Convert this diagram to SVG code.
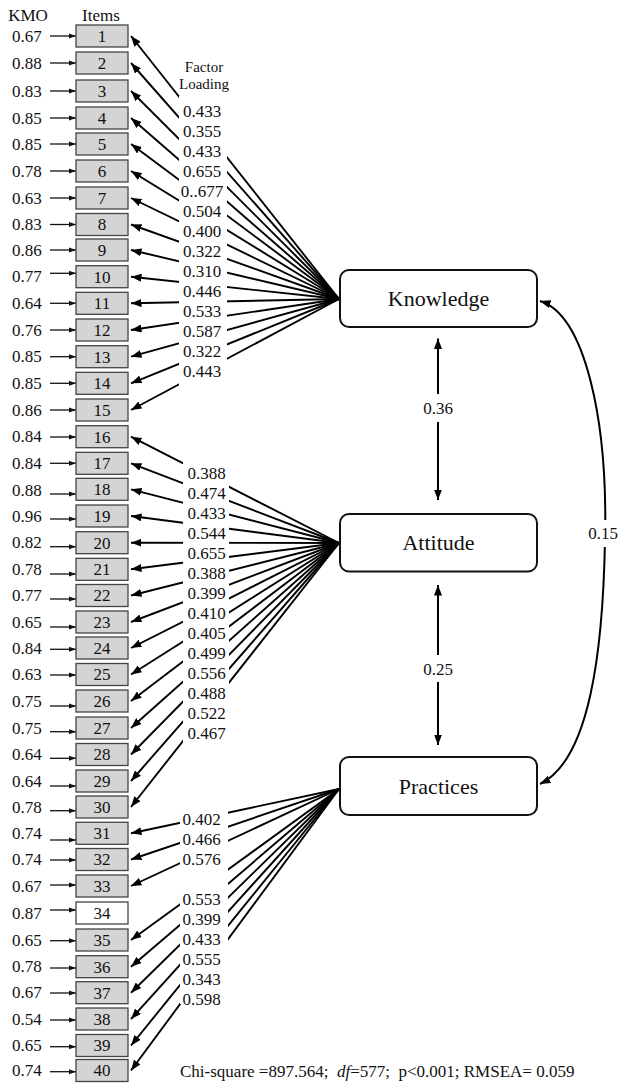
<svg xmlns="http://www.w3.org/2000/svg" width="620" height="1084" viewBox="0 0 620 1084">
<defs>
<style>
text{font-family:"Liberation Serif","Times New Roman",serif;fill:#111;}
.t17{font-size:17px;}
.mid{text-anchor:middle;}
.item rect{fill:#d4d4d4;stroke:#444;stroke-width:1.3;}
.item rect.white{fill:#fff;}
.item text{font-size:17px;text-anchor:middle;}
.kmo text{font-size:17px;}
.factor rect{fill:#fff;stroke:#111;stroke-width:2;}
.factor text{font-size:22px;text-anchor:middle;}
.load{stroke:#000;stroke-width:1.9;fill:none;marker-end:url(#ahL);}
.kmoa{stroke:#111;stroke-width:1.3;marker-end:url(#ahK);}
.corr{stroke:#000;stroke-width:2;fill:none;marker-start:url(#ahB);marker-end:url(#ahB);}
.mask{fill:#fff;}
.lab{font-size:17px;text-anchor:middle;}
</style>
<marker id="ahL" markerUnits="userSpaceOnUse" markerWidth="11" markerHeight="8" refX="10.5" refY="4" orient="auto"><path d="M0,0 L10.5,4 L0,8 z" fill="#000"/></marker>
<marker id="ahK" markerUnits="userSpaceOnUse" markerWidth="7" markerHeight="6" refX="7" refY="3" orient="auto"><path d="M0,0.5 L7,3 L0,5.5 z" fill="#111"/></marker>
<marker id="ahB" markerUnits="userSpaceOnUse" markerWidth="11" markerHeight="9" refX="10.5" refY="4.5" orient="auto-start-reverse"><path d="M0,0.5 L10.5,4.5 L0,8.5 z" fill="#000"/></marker>
</defs>
<rect width="620" height="1084" fill="#fff"/>

<g id="connectors">
<g id="knowledge-loadings">
<line class="load" x1="339" y1="299" x2="131" y2="36"/>
<line class="load" x1="339" y1="299" x2="131" y2="63"/>
<line class="load" x1="339" y1="299" x2="131" y2="91"/>
<line class="load" x1="339" y1="299" x2="131" y2="118"/>
<line class="load" x1="339" y1="299" x2="131" y2="144"/>
<line class="load" x1="339" y1="299" x2="131" y2="171"/>
<line class="load" x1="339" y1="299" x2="131" y2="198"/>
<line class="load" x1="339" y1="299" x2="131" y2="224.5"/>
<line class="load" x1="339" y1="299" x2="131" y2="250"/>
<line class="load" x1="339" y1="299" x2="131" y2="276.7"/>
<line class="load" x1="339" y1="299" x2="131" y2="303.3"/>
<line class="load" x1="339" y1="299" x2="131" y2="330"/>
<line class="load" x1="339" y1="299" x2="131" y2="356.7"/>
<line class="load" x1="339" y1="299" x2="131" y2="383.3"/>
<line class="load" x1="339" y1="299" x2="131" y2="410"/>
</g>
<g id="attitude-loadings">
<line class="load" x1="339" y1="543" x2="131" y2="436.7"/>
<line class="load" x1="339" y1="543" x2="131" y2="463.3"/>
<line class="load" x1="339" y1="543" x2="131" y2="489.3"/>
<line class="load" x1="339" y1="543" x2="131" y2="516"/>
<line class="load" x1="339" y1="543" x2="131" y2="542.7"/>
<line class="load" x1="339" y1="543" x2="131" y2="569.3"/>
<line class="load" x1="339" y1="543" x2="131" y2="595.5"/>
<line class="load" x1="339" y1="543" x2="131" y2="622"/>
<line class="load" x1="339" y1="543" x2="131" y2="648"/>
<line class="load" x1="339" y1="543" x2="131" y2="674.5"/>
<line class="load" x1="339" y1="543" x2="131" y2="701"/>
<line class="load" x1="339" y1="543" x2="131" y2="728"/>
<line class="load" x1="339" y1="543" x2="131" y2="754.5"/>
<line class="load" x1="339" y1="543" x2="131" y2="781"/>
<line class="load" x1="339" y1="543" x2="131" y2="807"/>
</g>
<g id="practices-loadings">
<line class="load" x1="339" y1="789" x2="131" y2="833.3"/>
<line class="load" x1="339" y1="789" x2="131" y2="859.5"/>
<line class="load" x1="339" y1="789" x2="131" y2="886"/>
<line class="load" x1="339" y1="789" x2="131" y2="940"/>
<line class="load" x1="339" y1="789" x2="131" y2="966.7"/>
<line class="load" x1="339" y1="789" x2="131" y2="992.7"/>
<line class="load" x1="339" y1="789" x2="131" y2="1019"/>
<line class="load" x1="339" y1="789" x2="131" y2="1045.5"/>
<line class="load" x1="339" y1="789" x2="131" y2="1070.5"/>
</g>
<g id="kmo-arrows">
<line class="kmoa" x1="50" y1="36" x2="76" y2="36"/>
<line class="kmoa" x1="50" y1="63" x2="76" y2="63"/>
<line class="kmoa" x1="50" y1="91" x2="76" y2="91"/>
<line class="kmoa" x1="50" y1="118" x2="76" y2="118"/>
<line class="kmoa" x1="50" y1="144" x2="76" y2="144"/>
<line class="kmoa" x1="50" y1="171" x2="76" y2="171"/>
<line class="kmoa" x1="50" y1="198" x2="76" y2="198"/>
<line class="kmoa" x1="50" y1="224.5" x2="76" y2="224.5"/>
<line class="kmoa" x1="50" y1="250" x2="76" y2="250"/>
<line class="kmoa" x1="50" y1="273.3" x2="76" y2="273.3"/>
<line class="kmoa" x1="50" y1="303.3" x2="76" y2="303.3"/>
<line class="kmoa" x1="50" y1="330" x2="76" y2="330"/>
<line class="kmoa" x1="50" y1="356.7" x2="76" y2="356.7"/>
<line class="kmoa" x1="50" y1="383.3" x2="76" y2="383.3"/>
<line class="kmoa" x1="50" y1="410" x2="76" y2="410"/>
<line class="kmoa" x1="50" y1="437" x2="76" y2="437"/>
<line class="kmoa" x1="50" y1="463.3" x2="76" y2="463.3"/>
<line class="kmoa" x1="50" y1="494" x2="76" y2="494"/>
<line class="kmoa" x1="50" y1="519" x2="76" y2="519"/>
<line class="kmoa" x1="50" y1="546.7" x2="76" y2="546.7"/>
<line class="kmoa" x1="50" y1="574" x2="76" y2="574"/>
<line class="kmoa" x1="50" y1="599" x2="76" y2="599"/>
<line class="kmoa" x1="50" y1="627" x2="76" y2="627"/>
<line class="kmoa" x1="50" y1="649.3" x2="76" y2="649.3"/>
<line class="kmoa" x1="50" y1="675" x2="76" y2="675"/>
<line class="kmoa" x1="50" y1="706" x2="76" y2="706"/>
<line class="kmoa" x1="50" y1="731.7" x2="76" y2="731.7"/>
<line class="kmoa" x1="50" y1="758.3" x2="76" y2="758.3"/>
<line class="kmoa" x1="50" y1="786" x2="76" y2="786"/>
<line class="kmoa" x1="50" y1="810.7" x2="76" y2="810.7"/>
<line class="kmoa" x1="50" y1="840" x2="76" y2="840"/>
<line class="kmoa" x1="50" y1="860" x2="76" y2="860"/>
<line class="kmoa" x1="50" y1="885" x2="76" y2="885"/>
<line class="kmoa" x1="50" y1="910" x2="76" y2="910"/>
<line class="kmoa" x1="50" y1="940.7" x2="76" y2="940.7"/>
<line class="kmoa" x1="50" y1="968" x2="76" y2="968"/>
<line class="kmoa" x1="50" y1="993" x2="76" y2="993"/>
<line class="kmoa" x1="50" y1="1020" x2="76" y2="1020"/>
<line class="kmoa" x1="50" y1="1046.7" x2="76" y2="1046.7"/>
<line class="kmoa" x1="50" y1="1071.7" x2="76" y2="1071.7"/>
</g>
<g id="correlations">
<line class="corr" x1="438" y1="338.5" x2="438" y2="500"/>
<line class="corr" x1="438" y1="585" x2="438" y2="745"/>
<path class="corr" d="M540,301 C585,315 608,420 605,540 C603,650 590,760 540,784"/>
</g>
</g>

<g id="loading-labels">
<rect class="mask" x="179" y="96" width="48" height="290"/>
<rect class="mask" x="183" y="460" width="46" height="283"/>
<rect class="mask" x="180" y="809" width="48" height="195"/>
<text x="204" y="71.5" class="mid" style="font-size:15px">Factor</text>
<text x="204" y="88.5" class="mid" style="font-size:15px">Loading</text>
<text class="lab" x="202" y="117.1">0.433</text>
<text class="lab" x="202" y="137.1">0.355</text>
<text class="lab" x="202" y="157.1">0.433</text>
<text class="lab" x="202" y="177.1">0.655</text>
<text class="lab" x="202" y="197.1">0..677</text>
<text class="lab" x="202" y="217.1">0.504</text>
<text class="lab" x="202" y="237.1">0.400</text>
<text class="lab" x="202" y="257.1">0.322</text>
<text class="lab" x="202" y="277.1">0.310</text>
<text class="lab" x="202" y="297.1">0.446</text>
<text class="lab" x="202" y="317.1">0.533</text>
<text class="lab" x="202" y="337.1">0.587</text>
<text class="lab" x="202" y="357.1">0.322</text>
<text class="lab" x="202" y="377.1">0.443</text>
<text class="lab" x="206.7" y="478.6">0.388</text>
<text class="lab" x="206.7" y="498.6">0.474</text>
<text class="lab" x="206.7" y="518.6">0.433</text>
<text class="lab" x="206.7" y="538.6">0.544</text>
<text class="lab" x="206.7" y="558.6">0.655</text>
<text class="lab" x="206.7" y="578.6">0.388</text>
<text class="lab" x="206.7" y="598.6">0.399</text>
<text class="lab" x="206.7" y="618.6">0.410</text>
<text class="lab" x="206.7" y="638.6">0.405</text>
<text class="lab" x="206.7" y="658.6">0.499</text>
<text class="lab" x="206.7" y="678.6">0.556</text>
<text class="lab" x="206.7" y="698.6">0.488</text>
<text class="lab" x="206.7" y="718.6">0.522</text>
<text class="lab" x="206.7" y="738.6">0.467</text>
<text class="lab" x="201.7" y="824.6">0.402</text>
<text class="lab" x="201.7" y="844.6">0.466</text>
<text class="lab" x="201.7" y="864.6">0.576</text>
<text class="lab" x="201.7" y="904.6">0.553</text>
<text class="lab" x="201.7" y="924.6">0.399</text>
<text class="lab" x="201.7" y="944.6">0.433</text>
<text class="lab" x="201.7" y="964.6">0.555</text>
<text class="lab" x="201.7" y="984.6">0.343</text>
<text class="lab" x="201.7" y="1004.6">0.598</text>
<rect class="mask" x="424" y="394" width="28" height="28"/>
<text class="lab" x="438" y="414">0.36</text>
<rect class="mask" x="424" y="655" width="28" height="27"/>
<text class="lab" x="438" y="675">0.25</text>
<rect class="mask" x="588" y="520" width="31" height="27"/>
<text class="lab" x="603" y="538.5">0.15</text>
</g>

<g id="headers">
<text class="t17 mid" x="28" y="20.5">KMO</text>
<text class="t17 mid" x="101" y="20.5">Items</text>
</g>

<g id="kmo" class="kmo">
<text x="12" y="41.6">0.67</text>
<text x="12" y="68.6">0.88</text>
<text x="12" y="96.6">0.83</text>
<text x="12" y="123.6">0.85</text>
<text x="12" y="149.6">0.85</text>
<text x="12" y="176.6">0.78</text>
<text x="12" y="203.6">0.63</text>
<text x="12" y="230.1">0.83</text>
<text x="12" y="255.6">0.86</text>
<text x="12" y="281.6">0.77</text>
<text x="12" y="308.9">0.64</text>
<text x="12" y="335.6">0.76</text>
<text x="12" y="362.3">0.85</text>
<text x="12" y="388.9">0.85</text>
<text x="12" y="415.6">0.86</text>
<text x="12" y="442.3">0.84</text>
<text x="12" y="468.9">0.84</text>
<text x="12" y="495.6">0.88</text>
<text x="12" y="521.6">0.96</text>
<text x="12" y="548.3">0.82</text>
<text x="12" y="574.9">0.78</text>
<text x="12" y="601.1">0.77</text>
<text x="12" y="627.6">0.65</text>
<text x="12" y="653.6">0.84</text>
<text x="12" y="680.1">0.63</text>
<text x="12" y="706.6">0.75</text>
<text x="12" y="733.6">0.75</text>
<text x="12" y="760.1">0.64</text>
<text x="12" y="786.6">0.64</text>
<text x="12" y="812.6">0.78</text>
<text x="12" y="838.9">0.74</text>
<text x="12" y="865.1">0.74</text>
<text x="12" y="891.6">0.67</text>
<text x="12" y="918.6">0.87</text>
<text x="12" y="945.6">0.65</text>
<text x="12" y="972.3">0.78</text>
<text x="12" y="998.3">0.67</text>
<text x="12" y="1024.6">0.54</text>
<text x="12" y="1051.1">0.65</text>
<text x="12" y="1076.1">0.74</text>
</g>

<g id="items">
<g id="item-1" class="item"><rect x="76" y="25" width="52" height="22"/><text x="102" y="41.8">1</text></g>
<g id="item-2" class="item"><rect x="76" y="52" width="52" height="22"/><text x="102" y="68.8">2</text></g>
<g id="item-3" class="item"><rect x="76" y="80" width="52" height="22"/><text x="102" y="96.8">3</text></g>
<g id="item-4" class="item"><rect x="76" y="107" width="52" height="22"/><text x="102" y="123.8">4</text></g>
<g id="item-5" class="item"><rect x="76" y="133" width="52" height="22"/><text x="102" y="149.8">5</text></g>
<g id="item-6" class="item"><rect x="76" y="160" width="52" height="22"/><text x="102" y="176.8">6</text></g>
<g id="item-7" class="item"><rect x="76" y="187" width="52" height="22"/><text x="102" y="203.8">7</text></g>
<g id="item-8" class="item"><rect x="76" y="213.5" width="52" height="22"/><text x="102" y="230.3">8</text></g>
<g id="item-9" class="item"><rect x="76" y="239" width="52" height="22"/><text x="102" y="255.8">9</text></g>
<g id="item-10" class="item"><rect x="76" y="265.7" width="52" height="22"/><text x="102" y="282.5">10</text></g>
<g id="item-11" class="item"><rect x="76" y="292.3" width="52" height="22"/><text x="102" y="309.1">11</text></g>
<g id="item-12" class="item"><rect x="76" y="319" width="52" height="22"/><text x="102" y="335.8">12</text></g>
<g id="item-13" class="item"><rect x="76" y="345.7" width="52" height="22"/><text x="102" y="362.5">13</text></g>
<g id="item-14" class="item"><rect x="76" y="372.3" width="52" height="22"/><text x="102" y="389.1">14</text></g>
<g id="item-15" class="item"><rect x="76" y="399" width="52" height="22"/><text x="102" y="415.8">15</text></g>
<g id="item-16" class="item"><rect x="76" y="425.7" width="52" height="22"/><text x="102" y="442.5">16</text></g>
<g id="item-17" class="item"><rect x="76" y="452.3" width="52" height="22"/><text x="102" y="469.1">17</text></g>
<g id="item-18" class="item"><rect x="76" y="478.3" width="52" height="22"/><text x="102" y="495.1">18</text></g>
<g id="item-19" class="item"><rect x="76" y="505" width="52" height="22"/><text x="102" y="521.8">19</text></g>
<g id="item-20" class="item"><rect x="76" y="531.7" width="52" height="22"/><text x="102" y="548.5">20</text></g>
<g id="item-21" class="item"><rect x="76" y="558.3" width="52" height="22"/><text x="102" y="575.1">21</text></g>
<g id="item-22" class="item"><rect x="76" y="584.5" width="52" height="22"/><text x="102" y="601.3">22</text></g>
<g id="item-23" class="item"><rect x="76" y="611" width="52" height="22"/><text x="102" y="627.8">23</text></g>
<g id="item-24" class="item"><rect x="76" y="637" width="52" height="22"/><text x="102" y="653.8">24</text></g>
<g id="item-25" class="item"><rect x="76" y="663.5" width="52" height="22"/><text x="102" y="680.3">25</text></g>
<g id="item-26" class="item"><rect x="76" y="690" width="52" height="22"/><text x="102" y="706.8">26</text></g>
<g id="item-27" class="item"><rect x="76" y="717" width="52" height="22"/><text x="102" y="733.8">27</text></g>
<g id="item-28" class="item"><rect x="76" y="743.5" width="52" height="22"/><text x="102" y="760.3">28</text></g>
<g id="item-29" class="item"><rect x="76" y="770" width="52" height="22"/><text x="102" y="786.8">29</text></g>
<g id="item-30" class="item"><rect x="76" y="796" width="52" height="22"/><text x="102" y="812.8">30</text></g>
<g id="item-31" class="item"><rect x="76" y="822.3" width="52" height="22"/><text x="102" y="839.1">31</text></g>
<g id="item-32" class="item"><rect x="76" y="848.5" width="52" height="22"/><text x="102" y="865.3">32</text></g>
<g id="item-33" class="item"><rect x="76" y="875" width="52" height="22"/><text x="102" y="891.8">33</text></g>
<g id="item-34" class="item"><rect class="white" x="76" y="902" width="52" height="22"/><text x="102" y="918.8">34</text></g>
<g id="item-35" class="item"><rect x="76" y="929" width="52" height="22"/><text x="102" y="945.8">35</text></g>
<g id="item-36" class="item"><rect x="76" y="955.7" width="52" height="22"/><text x="102" y="972.5">36</text></g>
<g id="item-37" class="item"><rect x="76" y="981.7" width="52" height="22"/><text x="102" y="998.5">37</text></g>
<g id="item-38" class="item"><rect x="76" y="1008" width="52" height="22"/><text x="102" y="1024.8">38</text></g>
<g id="item-39" class="item"><rect x="76" y="1034.5" width="52" height="22"/><text x="102" y="1051.3">39</text></g>
<g id="item-40" class="item"><rect x="76" y="1059.5" width="52" height="22"/><text x="102" y="1076.3">40</text></g>
</g>

<g id="knowledge" class="factor"><rect x="340" y="270" width="197" height="57" rx="9"/><text x="438.5" y="306">Knowledge</text></g>
<g id="attitude" class="factor"><rect x="340" y="514" width="197" height="57.5" rx="9"/><text x="438.5" y="550">Attitude</text></g>
<g id="practices" class="factor"><rect x="340" y="757" width="197" height="58" rx="9"/><text x="438.5" y="793.5">Practices</text></g>

<text id="fit" x="180" y="1077" style="font-size:17px;white-space:pre">Chi-square =897.564;  <tspan font-style="italic">df</tspan>=577;  p&lt;0.001; RMSEA= 0.059</text>
</svg>
